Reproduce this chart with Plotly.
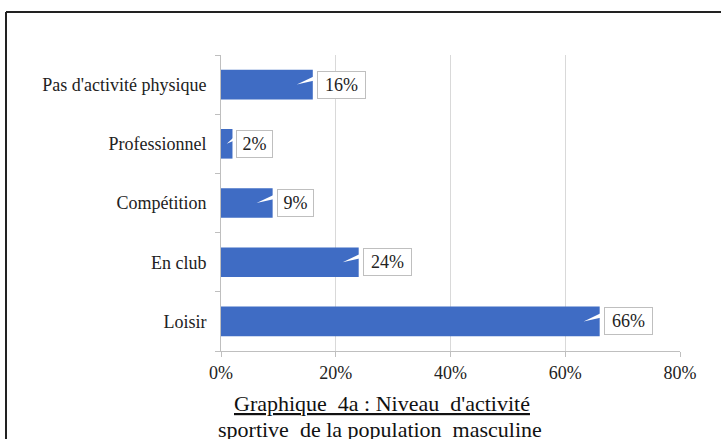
import plotly.graph_objects as go

categories = ["Loisir", "En club", "Compétition", "Professionnel", "Pas d'activité physique"]
values = [66, 24, 9, 2, 16]
value_labels = ["66%", "24%", "9%", "2%", "16%"]
x_ticks = [0, 20, 40, 60, 80]
x_tick_labels = ["0%", "20%", "40%", "60%", "80%"]
title_line1 = "Graphique  4a : Niveau  d'activité"
title_line2 = "sportive  de la population  masculine"

FONT = "Liberation Serif"
W, H = 721, 439
L, R, T, B = 221, 41, 55, 88

fig = go.Figure()
fig.add_trace(go.Bar(
    x=values, y=categories, orientation="h",
    marker=dict(color="#3F6CC4", line=dict(width=0)),
    width=0.5, hoverinfo="skip",
))

# callout wedges + label boxes
for i, (v, t) in enumerate(zip(values, value_labels)):
    tip = max(v - 2.8, v * 0.5)
    base = v + 0.9
    fig.add_shape(type="path", xref="x", yref="y",
                  path=f"M {tip} {i} L {base} {i + 0.17} L {base} {i + 0.08} Z",
                  fillcolor="white", line=dict(width=0), layer="above")
    fig.add_annotation(x=v, y=categories[i], xref="x", yref="y",
                       text=t, showarrow=False, xanchor="left", xshift=4,
                       width=12 * len(t) + 5, height=20, align="center",
                       font=dict(family=FONT, size=18, color="#222"),
                       bgcolor="white", bordercolor="#BFBFBF", borderwidth=1, borderpad=3)

fig.add_annotation(x=0.351, y=-0.179, xref="paper", yref="paper",
                   text="<u>" + title_line1 + "</u>", showarrow=False,
                   xanchor="center", yanchor="middle",
                   font=dict(family=FONT, size=22, color="#111"))
fig.add_annotation(x=0.347, y=-0.266, xref="paper", yref="paper",
                   text=title_line2, showarrow=False,
                   xanchor="center", yanchor="middle",
                   font=dict(family=FONT, size=22, color="#111"))

# outer frame (top and left edges)
pw, ph = W - L - R, H - T - B
fx0 = (6 - L) / pw
fy_top = (H - B - 12) / ph
fy_bot = (H - B - 445) / ph
fig.add_shape(type="line", xref="paper", yref="paper", x0=fx0, x1=(W + 5 - L) / pw,
              y0=fy_top, y1=fy_top, line=dict(color="#222", width=2))
fig.add_shape(type="line", xref="paper", yref="paper", x0=fx0, x1=fx0,
              y0=fy_bot, y1=fy_top, line=dict(color="#222", width=2))

fig.update_layout(
    width=W, height=H,
    margin=dict(l=L, r=R, t=T, b=B, autoexpand=False),
    paper_bgcolor="white", plot_bgcolor="white",
    showlegend=False,
    bargap=0.5,
    xaxis=dict(range=[0, 80], tickvals=x_ticks, ticktext=x_tick_labels,
               showgrid=True, gridcolor="#D9D9D9", gridwidth=1,
               showline=True, linecolor="#BFBFBF", linewidth=1,
               ticks="outside", ticklen=5, tickcolor="#BFBFBF",
               zeroline=False,
               tickfont=dict(family=FONT, size=18, color="#222")),
    yaxis=dict(categoryorder="array", categoryarray=categories,
               showline=True, linecolor="#BFBFBF", linewidth=1,
               ticks="outside", ticklen=5, tickcolor="#BFBFBF",
               tickson="boundaries", showgrid=False,
               tickfont=dict(family=FONT, size=18, color="#222"),
               ticklabelstandoff=10),
)

fig.write_html("out.html", config={"displayModeBar": False},
               post_script="document.body.style.margin='0';document.body.style.overflow='hidden';")
